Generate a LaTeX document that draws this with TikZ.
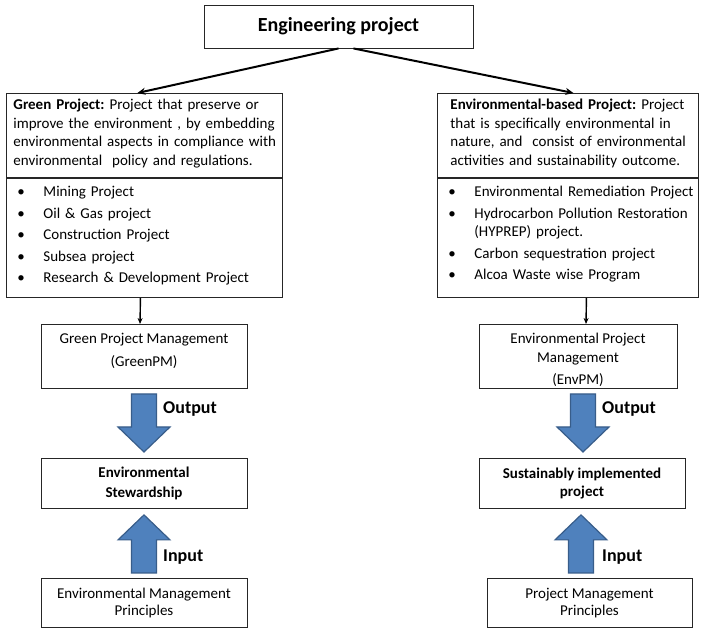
\documentclass[tikz,border=0pt]{standalone}
\usepackage{fontspec}
\setmainfont{Carlito}
\usetikzlibrary{positioning,arrows.meta}
\definecolor{arrowfill}{HTML}{4F81BD}
\definecolor{arrowline}{HTML}{385D8A}
\newcommand\itm{\makebox[29pt][l]{\hspace{3pt}\textbullet}}
\newcommand\row[1]{\mbox{#1}}
\frenchspacing
\tikzset{
  body/.style={font=\fontsize{15}{18.5}\selectfont},
  box/.style={draw=black!85, line width=0.9pt, fill=white},
  deftext/.style={box, anchor=north west, align=left, minimum height=84},
  listtext/.style={box, anchor=north, align=left, inner xsep=8pt, minimum height=119},
  pmbox/.style={box, anchor=north, minimum height=64},
  resbox/.style={box, anchor=north, align=center, minimum width=206, minimum height=50, font=\bfseries\fontsize{15}{18.5}\selectfont},
  iolabel/.style={anchor=west, inner sep=0pt, font=\bfseries\fontsize{18}{20}\selectfont},
  link/.style={line width=2pt, -{Stealth[length=8pt,width=7pt]}},
  drop/.style={line width=1.4pt, -{Stealth[length=6pt,width=5pt]}},
  blockarrow/.pic={
    \draw[fill=arrowfill, draw=arrowline, line width=1.2pt, line join=miter]
      (0,0) -- (-26,-25) -- (-12.5,-25) -- (-12.5,-58) -- (12.5,-58) -- (12.5,-25) -- (26,-25) -- cycle;
  }
}
\begin{document}
\begin{tikzpicture}[x=1pt, y=-1pt, body]
\fill[white] (0,0) rectangle (705,628);
\useasboundingbox (0,0) rectangle (705,628);
% top
\node[box, minimum width=269, minimum height=43, font=\bfseries\fontsize{20}{24}\selectfont] (eng) at (338.5,26.5) {Engineering project};
% left column
\node[deftext, text width=262, inner xsep=7pt] (greendef) at (6,93)
  {\row{\textbf{Green Project:} Project that preserve or}\\
   \row{improve the environment , by embedding}\\
   \row{environmental aspects in compliance with}\\
   \row{environmental\ \ policy and regulations.}\\[-12pt]\mbox{}};
\node[listtext, text width=260] (greenlist) at (greendef.south)
  {\itm Mining Project\\[3pt]
   \itm Oil \& Gas project\\[3pt]
   \itm Construction Project\\[3pt]
   \itm Subsea project\\[3pt]
   \itm Research \& Development Project\\[-12pt]\mbox{}};
\node[pmbox, minimum width=206] (greenpm) at (144,324) {};
\node[below=6pt of greenpm.north, align=center] (greenpmtext) {Green Project Management\\[4pt](GreenPM)};
\node[resbox] (stew) at (144,458) {Environmental\\[1.5pt]Stewardship};
\node[box, anchor=north, align=center, minimum width=206, minimum height=49] (emp) at (144,578) {Environmental Management\\[-1.5pt]Principles};
% right column
\node[deftext, text width=235, inner xsep=13pt] (envdef) at (437,93)
  {\row{\textbf{Environmental-based Project:} Project}\\
   \row{that is specifically environmental in}\\
   \row{nature, and\ \ consist of environmental}\\
   \row{activities and sustainability outcome.}\\[-12pt]\mbox{}};
\node[listtext, text width=245] (envlist) at (envdef.south)
  {\row{\itm Environmental Remediation Project}\\[3pt]
   \row{\itm Hydrocarbon Pollution Restoration}\\
   \hspace*{29pt}(HYPREP) project.\\[3pt]
   \row{\itm Carbon sequestration project}\\[3pt]
   \row{\itm Alcoa Waste wise Program}\\[-9pt]\mbox{}};
\node[pmbox, minimum width=198] (envpm) at (578,324) {};
\node[below=6pt of envpm.north, align=center] (envpmtext) {Environmental Project\\Management\\[3.5pt](EnvPM)};
\node[resbox] (sust) at (582,458) {Sustainably implemented\\project};
\node[box, anchor=north, align=center, minimum width=205, minimum height=49] (pmp) at (589.5,578) {Project Management\\[-1.5pt]Principles};
% connectors
\draw[link] (eng.south) -- ([xshift=-7pt]greendef.north);
\draw[link] ([xshift=15pt]eng.south) -- ([xshift=5.5pt]envdef.north);
\draw[drop] ([xshift=-4pt]greenlist.south) -- ([xshift=-4pt]greenpm.north);
\draw[drop] ([xshift=18.5pt]envlist.south) -- ([xshift=8pt]envpm.north);
% output / input arrows
\pic at ([yshift=6pt]stew.north) {blockarrow};
\pic[rotate=180] at ([yshift=-6pt]stew.south) {blockarrow};
\pic at ([xshift=1pt,yshift=6pt]sust.north) {blockarrow};
\pic[rotate=180] at ([xshift=-1pt,yshift=-6pt]sust.south) {blockarrow};
\node[iolabel] (greenout) at (163,409) {Output};
\node[iolabel] (greenin) at (163,557) {Input};
\node[iolabel] (envout) at (602,409) {Output};
\node[iolabel] (envin) at (602,557) {Input};
\end{tikzpicture}
\end{document}
